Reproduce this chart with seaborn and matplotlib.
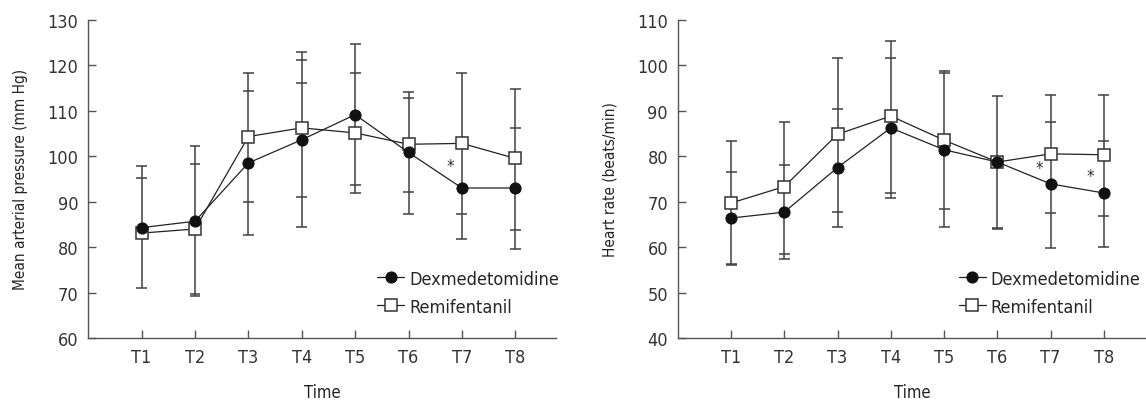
import numpy as np
import pandas as pd
import seaborn as sns
import matplotlib.pyplot as plt

times = ["T1", "T2", "T3", "T4", "T5", "T6", "T7", "T8"]

# Mean arterial pressure
map_dex = [84.3, 85.7, 98.5, 103.6, 109.1, 100.8, 93.0, 93.0]
map_remi = [83.1, 84.0, 104.3, 106.2, 105.1, 102.6, 102.8, 99.5]
# whisker cap levels seen at each time point (both groups)
map_caps = [
    [97.9, 95.3, 71.0],
    [102.2, 98.2, 69.7, 69.2],
    [118.2, 114.2, 90.0, 82.7],
    [122.9, 121.2, 116.0, 91.1, 84.4],
    [124.6, 118.2, 93.6, 91.8],
    [114.0, 112.7, 92.2, 87.2],
    [118.2, 87.3, 81.9],
    [114.8, 106.1, 83.7, 79.6],
]
map_stars = [(6.78, 97.9)]

# Heart rate
hr_dex = [66.4, 67.7, 77.5, 86.2, 81.4, 78.7, 73.9, 71.9]
hr_remi = [69.7, 73.3, 84.8, 88.8, 83.5, 78.7, 80.5, 80.3]
hr_caps = [
    [83.3, 76.5, 56.4, 56.1],
    [87.5, 78.1, 58.6, 57.5],
    [101.6, 90.3, 67.7, 64.5],
    [105.2, 101.5, 71.9, 70.9],
    [98.8, 98.3, 68.3, 64.5],
    [93.2, 64.2, 63.9],
    [93.4, 87.5, 67.5, 59.9],
    [93.4, 83.3, 66.8, 60.1],
]
hr_stars = [(6.78, 77.5), (7.74, 75.7)]

sns.set_style("ticks")
plt.rcParams['font.family'] = ['DejaVu Sans']
plt.rcParams['font.stretch'] = 'condensed'

fig = plt.figure(figsize=(11.46, 4.02), dpi=100)
ax1 = fig.add_axes([0.077, 0.156, 0.4085, 0.793])
ax2 = fig.add_axes([0.5914, 0.156, 0.4086, 0.793])

x = np.arange(1, len(times) + 1)


def draw(ax, dex, remi, caps, stars, ylim, yticks, ylabel, xmax, leg_x):
    for xi, c in zip(x, caps):
        ax.vlines(xi, min(c), max(c), color="#404040", lw=1.1, zorder=1)
        ax.hlines(c, xi - 0.103, xi + 0.103, color="#404040", lw=1.1, zorder=1)
    df = pd.DataFrame({"x": x, "dex": dex, "remi": remi})
    sns.lineplot(data=df, x="x", y="remi", ax=ax, color="#222222", lw=0.9,
                 marker="s", markersize=8.5, markerfacecolor="white",
                 markeredgecolor="#333333", markeredgewidth=1.1,
                 label="Remifentanil", zorder=3)
    sns.lineplot(data=df, x="x", y="dex", ax=ax, color="#222222", lw=0.9,
                 marker="o", markersize=8, markerfacecolor="#111111",
                 markeredgecolor="#111111", label="Dexmedetomidine", zorder=4)
    for sx, sy in stars:
        ax.text(sx, sy, "*", ha="center", va="center", fontsize=12, color="#333333")
    ax.set_xlim(0, xmax)
    ax.set_ylim(*ylim)
    ax.set_yticks(yticks)
    ax.set_xticks(x)
    ax.set_xticklabels(times)
    ax.set_xlabel("Time", fontsize=12, color="#222222", labelpad=12)
    ax.set_ylabel(ylabel, fontsize=11, color="#222222", labelpad=14)
    ax.tick_params(direction="in", length=6, width=1, color="#555555",
                   labelsize=13, labelcolor="#333333", pad=7)
    for s in ["left", "bottom"]:
        ax.spines[s].set_color("#555555")
        ax.spines[s].set_linewidth(1)
    sns.despine(ax=ax)
    h, l = ax.get_legend_handles_labels()
    ax.legend(h[::-1], l[::-1], loc="lower right", bbox_to_anchor=(leg_x, 0.02),
              frameon=False, fontsize=13, handlelength=1.5, handletextpad=0.25,
              labelspacing=0.55)


draw(ax1, map_dex, map_remi, map_caps, map_stars, (60, 130),
     range(60, 131, 10), "Mean arterial pressure (mm Hg)", 8.77, 1.04)
draw(ax2, hr_dex, hr_remi, hr_caps, hr_stars, (40, 110),
     range(40, 111, 10), "Heart rate (beats/min)", 8.79, 1.022)

fig.savefig("out.png", dpi=100)
